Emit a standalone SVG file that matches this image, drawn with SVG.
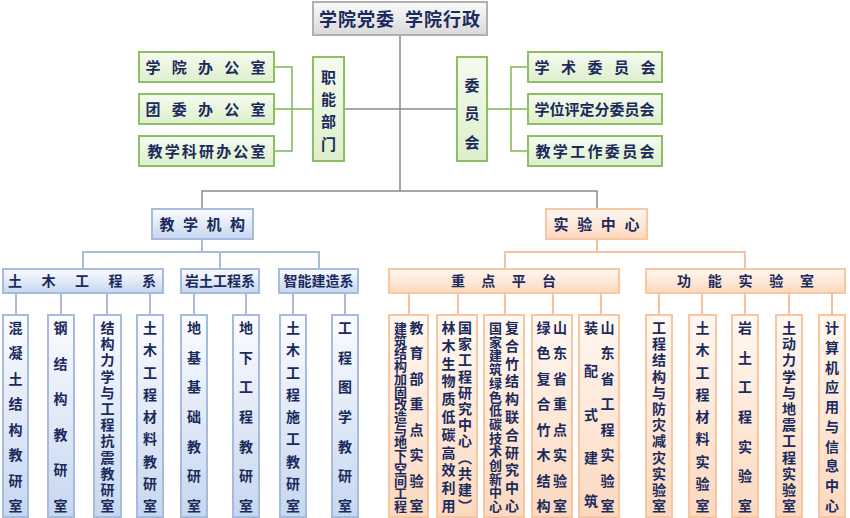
<svg xmlns="http://www.w3.org/2000/svg" width="850" height="518" viewBox="0 0 850 518">
<style>
text{font-family:"Noto Sans CJK SC","Noto Sans",sans-serif;font-weight:bold;fill:#1b2a5c;text-anchor:middle}
.f18{font-size:18px;letter-spacing:1px}.f15{font-size:15px}.f14{font-size:14px}.f13{font-size:13px}
.gray{fill:url(#gGray);stroke:#b0b0b0;stroke-width:2}
.green{fill:url(#gGreen);stroke:#8cc063;stroke-width:2}
.blue{fill:url(#gBlue);stroke:#a6bbdd;stroke-width:2}
.orange{fill:url(#gOrange);stroke:#f8c7a2;stroke-width:2}
.cg{stroke:#8a8a8a;stroke-width:1.5;fill:none}
.cgr{stroke:#7fb653;stroke-width:1.5;fill:none}
.cb{stroke:#a6bbdd;stroke-width:2;fill:none}
.co{stroke:#f6c29e;stroke-width:2;fill:none}
</style>
<defs>
<linearGradient id="gGray" x1="0" y1="0" x2="0" y2="1"><stop offset="0" stop-color="#fbfbfb"/><stop offset="1" stop-color="#d9d9d9"/></linearGradient>
<linearGradient id="gGreen" x1="0" y1="0" x2="0" y2="1"><stop offset="0" stop-color="#f6fbf0"/><stop offset="1" stop-color="#dcefcb"/></linearGradient>
<linearGradient id="gBlue" x1="0" y1="0" x2="0" y2="1"><stop offset="0" stop-color="#fbfcff"/><stop offset="1" stop-color="#c6d7ef"/></linearGradient>
<linearGradient id="gOrange" x1="0" y1="0" x2="0" y2="1"><stop offset="0" stop-color="#fff8f2"/><stop offset="1" stop-color="#fcd8be"/></linearGradient>
</defs>
<rect width="850" height="518" fill="#ffffff"/>

<g id="connectors">
<path class="cg" d="M400 35 V191 M344 109 H457 M202 209 V191 H597 V209"/>
<path class="cgr" d="M274 67 H292 V151 H274 M274 109 H313 M528 67 H511 V151 H528 M487 109 H528"/>
<path class="cb" d="M202 239 V252 M83 269 V252 H319 V269 M220 252 V269 M16 293 V315 M61 293 V315 M107 293 V315 M150 293 V315 M194 293 V315 M246 293 V315 M293 293 V315 M345 293 V315"/>
<path class="co" d="M597 239 V252 M505 269 V252 H745 V269 M409 293 V315 M458 293 V315 M505 293 V315 M553 293 V315 M601 293 V315 M659 293 V315 M702 293 V315 M745 293 V315 M789 293 V315 M832 293 V315"/>
</g>

<g id="n-top"><rect class="gray" x="313" y="2" width="174" height="33"/><text class="f18" x="400" y="25.5">学院党委&#160;&#160;学院行政</text></g>

<g id="n-xybgs"><rect class="green" x="139" y="52" width="135" height="30"/><text class="f15" x="153 179.3 205.5 231.8 258" y="72.7">学院办公室</text></g>
<g id="n-twbgs"><rect class="green" x="139" y="94" width="135" height="30"/><text class="f15" x="153 179.3 205.5 231.8 258" y="114.7">团委办公室</text></g>
<g id="n-jxkybgs"><rect class="green" x="139" y="136" width="135" height="30"/><text class="f15" x="155 172.2 189.3 206.5 223.7 240.8 258" y="156.7">教学科研办公室</text></g>
<g id="n-znbm"><rect class="green" x="313" y="57" width="31" height="104"/><text class="f15" x="328.5 328.5 328.5 328.5" y="82.7 105 127.4 149.7">职能部门</text></g>
<g id="n-wyh"><rect class="green" x="457" y="57" width="30" height="104"/><text class="f15" x="472 472 472" y="90.7 119.2 147.7">委员会</text></g>
<g id="n-xswyh"><rect class="green" x="528" y="52" width="134" height="30"/><text class="f15" x="542 568.5 595 621.5 648" y="72.7">学术委员会</text></g>
<g id="n-xwpdfwyh"><rect class="green" x="528" y="94" width="134" height="30"/><text class="f15" x="542 557 572 587 602 617 632 647" y="114.7">学位评定分委员会</text></g>
<g id="n-jxgzwyh"><rect class="green" x="528" y="136" width="134" height="30"/><text class="f15" x="543 560.3 577.7 595 612.3 629.7 647" y="156.7">教学工作委员会</text></g>

<g id="n-jxjg"><rect class="blue" x="152" y="209" width="101" height="30"/><text class="f15" x="167 190.5 214 237.5" y="229.7">教学机构</text></g>
<g id="n-syzx"><rect class="orange" x="546" y="209" width="101" height="30"/><text class="f15" x="561 584.7 608.3 632" y="229.7">实验中心</text></g>

<g id="n-tmgcx"><rect class="blue" x="3" y="269" width="160" height="24"/><text class="f14" x="15 48.5 82 115.5 149" y="286.3">土木工程系</text></g>
<g id="n-ytgcx"><rect class="blue" x="181" y="269" width="78" height="24"/><text class="f14" x="220" y="286.3">岩土工程系</text></g>
<g id="n-znjzx"><rect class="blue" x="279" y="269" width="79" height="24"/><text class="f14" x="318.5" y="286.3">智能建造系</text></g>
<g id="n-zdpt"><rect class="orange" x="389" y="269" width="230" height="24"/><text class="f14" x="458 488.3 518.7 549" y="286.3">重点平台</text></g>
<g id="n-gnsys"><rect class="orange" x="646" y="269" width="199" height="24"/><text class="f14" x="684 714.8 745.5 776.3 807" y="286.3">功能实验室</text></g>

<g id="n-hnt"><rect class="blue" x="3" y="315" width="25" height="202"/><text class="f14" x="15.5 15.5 15.5 15.5 15.5 15.5 15.5 15.5" y="333 358.4 383.9 409.3 434.7 460.1 485.6 511">混凝土结构教研室</text></g>
<g id="n-gjg"><rect class="blue" x="48" y="315" width="26" height="202"/><text class="f14" x="60.5 60.5 60.5 60.5 60.5 60.5" y="333 368.6 404.2 439.8 475.4 511">钢结构教研室</text></g>
<g id="n-jglx"><rect class="blue" x="94" y="315" width="27" height="202"/><text class="f14" x="107.5 107.5 107.5 107.5 107.5 107.5 107.5 107.5 107.5 107.5 107.5 107.5" y="333 349.2 365.4 381.5 397.7 413.9 430.1 446.3 462.5 478.6 494.8 511">结构力学与工程抗震教研室</text></g>
<g id="n-tmcl"><rect class="blue" x="137" y="315" width="26" height="202"/><text class="f14" x="150 150 150 150 150 150 150 150 150" y="333 355.3 377.5 399.8 422 444.3 466.5 488.8 511">土木工程材料教研室</text></g>
<g id="n-djjc"><rect class="blue" x="181" y="315" width="26" height="202"/><text class="f14" x="194 194 194 194 194 194 194" y="333 362.7 392.3 422 451.7 481.3 511">地基基础教研室</text></g>
<g id="n-dxgc"><rect class="blue" x="233" y="315" width="26" height="202"/><text class="f14" x="246 246 246 246 246 246 246" y="333 362.7 392.3 422 451.7 481.3 511">地下工程教研室</text></g>
<g id="n-tmsg"><rect class="blue" x="280" y="315" width="26" height="202"/><text class="f14" x="293 293 293 293 293 293 293 293 293" y="333 355.3 377.5 399.8 422 444.3 466.5 488.8 511">土木工程施工教研室</text></g>
<g id="n-gctx"><rect class="blue" x="332" y="315" width="26" height="202"/><text class="f14" x="345 345 345 345 345 345 345" y="333 362.7 392.3 422 451.7 481.3 511">工程图学教研室</text></g>

<g id="n-jybzd"><rect class="orange" x="389" y="315" width="39" height="202"/>
<text class="f14" x="416.5 416.5 416.5 416.5 416.5 416.5 416.5 416.5" y="333 358.4 383.9 409.3 434.7 460.1 485.6 511">教育部重点实验室</text>
<text class="f13" x="400.5 400.5 400.5 400.5 400.5 400.5 400.5 400.5 400.5 400.5 400.5 400.5 400.5 400.5 400.5" y="333 345.7 358.4 371.1 383.9 396.6 409.3 422 434.7 447.4 460.1 472.9 485.6 498.3 511">建筑结构加固改造与地下空间工程</text></g>
<g id="n-gjgczx"><rect class="orange" x="437" y="315" width="40" height="202"/>
<text class="f14" x="465 465 465 465 465 465 465 465 465 465 465 465" y="333 349.2 365.4 381.5 397.7 413.9 430.1 446.3 462.5 478.6 494.8 511">国家工程研究中心︵共建︶</text>
<text class="f14" x="448.5 448.5 448.5 448.5 448.5 448.5 448.5 448.5 448.5 448.5 448.5" y="333 350.8 368.6 386.4 404.2 422 439.8 457.6 475.4 493.2 511">林木生物质低碳高效利用</text></g>
<g id="n-fhz"><rect class="orange" x="484" y="315" width="40" height="202"/>
<text class="f14" x="512 512 512 512 512 512 512 512 512 512 512" y="333 350.8 368.6 386.4 404.2 422 439.8 457.6 475.4 493.2 511">复合竹结构联合研究中心</text>
<text class="f13" x="495.5 495.5 495.5 495.5 495.5 495.5 495.5 495.5 495.5 495.5 495.5 495.5 495.5 495.5" y="333 346.7 360.4 374.1 387.8 401.5 415.2 428.8 442.5 456.2 469.9 483.6 497.3 511">国家建筑绿色低碳技术创新中心</text></g>
<g id="n-sdzd"><rect class="orange" x="532" y="315" width="40" height="202"/>
<text class="f14" x="560 560 560 560 560 560 560 560" y="333 358.4 383.9 409.3 434.7 460.1 485.6 511">山东省重点实验室</text>
<text class="f14" x="543.5 543.5 543.5 543.5 543.5 543.5 543.5 543.5" y="333 358.4 383.9 409.3 434.7 460.1 485.6 511">绿色复合竹木结构</text></g>
<g id="n-sdgc"><rect class="orange" x="579" y="315" width="40" height="202"/>
<text class="f14" x="607.5 607.5 607.5 607.5 607.5 607.5 607.5 607.5" y="333 358.4 383.9 409.3 434.7 460.1 485.6 511">山东省工程实验室</text>
<text class="f14" x="591 591 591 591 591" y="333 376.3 419.5 462.8 506">装配式建筑</text></g>

<g id="n-gcjg"><rect class="orange" x="646" y="315" width="26" height="202"/><text class="f14" x="659 659 659 659 659 659 659 659 659 659 659 659" y="333 349.2 365.4 381.5 397.7 413.9 430.1 446.3 462.5 478.6 494.8 511">工程结构与防灾减灾实验室</text></g>
<g id="n-tmclsys"><rect class="orange" x="689" y="315" width="27" height="202"/><text class="f14" x="702.5 702.5 702.5 702.5 702.5 702.5 702.5 702.5 702.5" y="333 355.3 377.5 399.8 422 444.3 466.5 488.8 511">土木工程材料实验室</text></g>
<g id="n-ytsys"><rect class="orange" x="732" y="315" width="26" height="202"/><text class="f14" x="745 745 745 745 745 745 745" y="333 362.7 392.3 422 451.7 481.3 511">岩土工程实验室</text></g>
<g id="n-tdlx"><rect class="orange" x="776" y="315" width="26" height="202"/><text class="f14" x="789 789 789 789 789 789 789 789 789 789 789 789" y="333 349.2 365.4 381.5 397.7 413.9 430.1 446.3 462.5 478.6 494.8 511">土动力学与地震工程实验室</text></g>
<g id="n-jsj"><rect class="orange" x="819" y="315" width="26" height="202"/><text class="f14" x="832 832 832 832 832 832 832 832 832 832" y="333 352.8 372.6 392.3 412.1 431.9 451.7 471.4 491.2 511">计算机应用与信息中心</text></g>
</svg>
